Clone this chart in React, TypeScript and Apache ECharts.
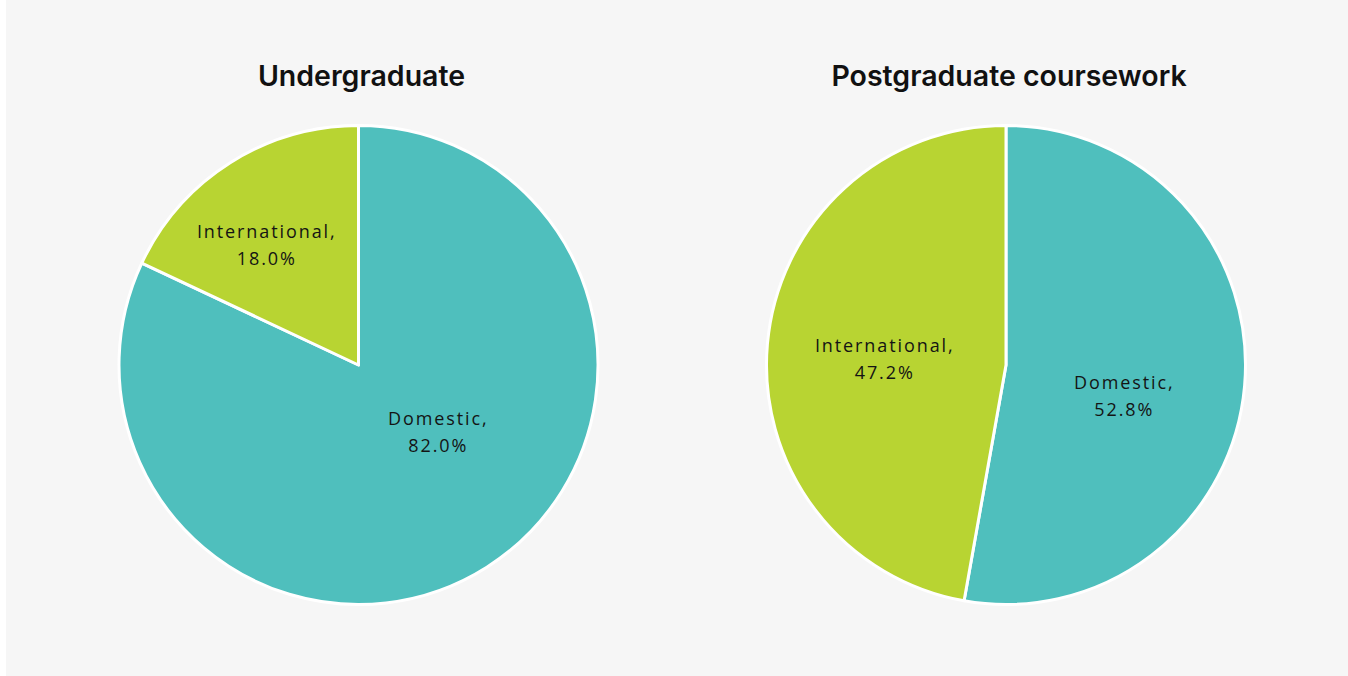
import React, { useEffect, useRef } from "react";
import * as echarts from "echarts";

const titles = ["Undergraduate", "Postgraduate coursework"];
const categories = ["Domestic", "International"];
const undergraduateValues = [82.0, 18.0];
const postgraduateValues = [52.8, 47.2];
const colors = ["#4fbfbd", "#b8d432"];

// label nudges (style only)
const labelOffsets = [
  [[13, -37], [-27, -17]],
  [[-5, 20], [0, 4]],
];

export default function App() {
  const ref = useRef<HTMLDivElement>(null);
  useEffect(() => {
    if (!ref.current) return;
    const chart = echarts.init(ref.current, undefined, { renderer: "svg" });
    const centersX = [352.5, 1000];
    const seriesValues = [undergraduateValues, postgraduateValues];
    const series = seriesValues.map((vals, si) => ({
      type: "pie",
      center: [centersX[si], 365],
      radius: 239.5,
      startAngle: 90,
      clockwise: true,
      silent: true,
      emphasis: { disabled: true },
      itemStyle: { borderColor: "#ffffff", borderWidth: 3 },
      label: {
        show: true,
        position: "inside",
        color: "#141414",
        fontFamily: "Open Sans",
        fontSize: 18,
        lineHeight: 27,
        align: "center",
        formatter: (p: any) => `${p.name},\n${p.value.toFixed(1)}%`,
      },
      labelLine: { show: false },
      data: vals.map((v, i) => ({
        name: categories[i],
        value: v,
        itemStyle: { color: colors[i] },
        label: { offset: labelOffsets[si][i] },
      })),
    }));
    chart.setOption({
      animation: false,
      backgroundColor: "#f6f6f6",
      title: titles.map((t, i) => ({
        text: t,
        left: centersX[i] - 2,
        top: 56,
        textAlign: "center",
        textStyle: {
          fontFamily: "Inter",
          fontWeight: 600,
          fontSize: 28.5,
          color: "#111111",
        },
      })),
      series,
    } as any);
    const applySpacing = () => {
      const texts = ref.current?.querySelectorAll("text") || [];
      texts.forEach((el: any) => {
        const s = (el.getAttribute("style") || "") + (el.style?.font || "");
        if (s.includes("18px")) {
          el.style.letterSpacing = "1.9px";
          el.setAttribute("dx", "1");
        }
      });
    };
    applySpacing();
    chart.on("finished", applySpacing);
    return () => chart.dispose();
  }, []);
  return (
    <div
      ref={ref}
      style={{ position: "absolute", left: 6, top: 0, width: 1342, height: 676 }}
    />
  );
}
